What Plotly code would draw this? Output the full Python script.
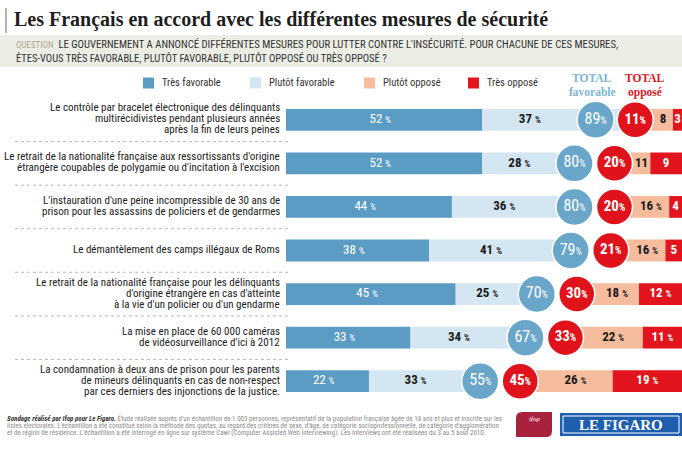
import plotly.graph_objects as go

# ---------------- data ----------------
row_labels = [
    ["Le contrôle par bracelet électronique des délinquants",
     "multirécidivistes pendant plusieurs années",
     "après la fin de leurs peines"],
    ["Le retrait de la nationalité française aux ressortissants d'origine",
     "étrangère coupables de polygamie ou d'incitation à l'excision"],
    ["L'instauration d'une peine incompressible de 30 ans de",
     "prison pour les assassins de policiers et de gendarmes"],
    ["Le démantèlement des camps illégaux de Roms"],
    ["Le retrait de la nationalité française pour les délinquants",
     "d'origine étrangère en cas d'atteinte",
     "à la vie d'un policier ou d'un gendarme"],
    ["La mise en place de 60 000 caméras",
     "de vidéosurveillance d'ici à 2012"],
    ["La condamnation à deux ans de prison pour les parents",
     "de mineurs délinquants en cas de non-respect",
     "par ces derniers des injonctions de la justice."],
]
categories = [" ".join(l) for l in row_labels]
tres_favorable = [52, 52, 44, 38, 45, 33, 22]
plutot_favorable = [37, 28, 36, 41, 25, 34, 33]
plutot_oppose = [8, 11, 16, 16, 18, 22, 26]
tres_oppose = [3, 9, 4, 5, 12, 11, 19]
total_favorable = [89, 80, 80, 79, 70, 67, 55]
total_oppose = [11, 20, 20, 21, 30, 33, 45]
series_names = ["Très favorable", "Plutôt favorable", "Plutôt opposé", "Très opposé"]

title = "Les Français en accord avec les différentes mesures de sécurité"
question_1 = "LE GOUVERNEMENT A ANNONCÉ DIFFÉRENTES MESURES POUR LUTTER CONTRE L'INSÉCURITÉ. POUR CHACUNE DE CES MESURES,"
question_2 = "ÊTES-VOUS TRÈS FAVORABLE, PLUTÔT FAVORABLE, PLUTÔT OPPOSÉ OU TRÈS OPPOSÉ ?"
footer = [
    "<b><i><span style='color:#333'>Sondage réalisé par Ifop pour Le Figaro.</span></i></b> Étude réalisée auprès d'un échantillon de 1 003 personnes, représentatif de la population française âgée de 18 ans et plus et inscrite sur les",
    "listes électorales. L'échantillon a été constitué selon la méthode des quotas, au regard des critères de sexe, d'âge, de catégorie socioprofessionnelle, de catégorie d'agglomération",
    "et de région de résidence. L'échantillon a été interrogé en ligne sur système Cawi (Computer Assisted Web Interviewing). Les interviews ont été réalisées du 3 au 5 août 2010.",
]

# ---------------- layout constants ----------------
W, H = 682, 450
ML, MT, MB = 286, 98, 47
PW, PH = W - ML, H - MT - MB
XMAX = 105.0
R_END = 105.6          # right end of the "opposé" bars (cropped by the frame)
CIRCLE_R = 4.8         # circle radius in % units
N = len(categories)

C_TF = "#5b9cc4"
C_PF = "#d4e6f1"
C_PO = "#f5bc9d"
C_TO = "#e2151e"
C_CIRC_B = "#6aa6c9"
C_CIRC_R = "#e0131c"
NARROW = "Roboto Condensed, Liberation Sans Narrow, DejaVu Sans Condensed, sans-serif"
SERIF = "Liberation Serif, DejaVu Serif, serif"


def px_x(p):
    return (p - ML) / PW


def px_y(q):
    return 1 - (q - MT) / PH


def row_px(i):
    return MT + (i + 0.5) * PH / N


def pct(v, small, bold=False, space=True):
    s = f"{v}{' ' if space else ''}<span style='font-size:{small}px'>%</span>"
    return f"<b>{s}</b>" if bold else s


fig = go.Figure()

opp_start = [R_END - t for t in total_oppose]
red_start = [R_END - t for t in tres_oppose]

fig.add_trace(go.Bar(y=categories, x=tres_favorable, base=[0] * N, orientation="h",
                     marker=dict(color=C_TF, line_width=0), width=0.5, name=series_names[0]))
fig.add_trace(go.Bar(y=categories, x=plutot_favorable, base=tres_favorable, orientation="h",
                     marker=dict(color=C_PF, line_width=0), width=0.5, name=series_names[1]))
fig.add_trace(go.Bar(y=categories, x=plutot_oppose, base=opp_start, orientation="h",
                     marker=dict(color=C_PO, line_width=0), width=0.5, name=series_names[2]))
fig.add_trace(go.Bar(y=categories, x=tres_oppose, base=red_start, orientation="h",
                     marker=dict(color=C_TO, line_width=0), width=0.5, name=series_names[3]))

# circle positions derived from the totals
c_red = [min(R_END - o + 1.5, R_END - 13) for o in total_oppose]
c_fav = [min(f - 3.5, cr - 10.5) for f, cr in zip(total_favorable, c_red)]

# labels inside bars
fig.add_trace(go.Scatter(
    x=[v / 2 - 1 for v in tres_favorable], y=categories, mode="text",
    text=[pct(v, 9) for v in tres_favorable],
    textfont=dict(family=NARROW, size=13, color="white"), hoverinfo="skip"))
fig.add_trace(go.Scatter(
    x=[(a + cf - CIRCLE_R) / 2 for a, cf in zip(tres_favorable, c_fav)], y=categories, mode="text",
    text=[pct(v, 9, bold=True) for v in plutot_favorable],
    textfont=dict(family=NARROW, size=13, color="#1a1a1a"), hoverinfo="skip"))

po_x, po_t, to_x, to_t = [], [], [], []
for i in range(N):
    vis0 = max(opp_start[i], c_red[i] + CIRCLE_R)
    vis1 = red_start[i]
    po_x.append((vis0 + vis1) / 2)
    po_t.append(pct(plutot_oppose[i], 9, True) if vis1 - vis0 >= 9 else f"<b>{plutot_oppose[i]}</b>")
    r0, r1 = red_start[i], min(R_END, XMAX)
    to_x.append((r0 + r1) / 2)
    to_t.append(pct(tres_oppose[i], 9, True) if r1 - r0 >= 9 else f"<b>{tres_oppose[i]}</b>")
fig.add_trace(go.Scatter(x=po_x, y=categories, mode="text", text=po_t,
                         textfont=dict(family=NARROW, size=13, color="#1a1a1a"), hoverinfo="skip"))
fig.add_trace(go.Scatter(x=to_x, y=categories, mode="text", text=to_t,
                         textfont=dict(family=NARROW, size=13, color="white"), hoverinfo="skip"))

# total circles
fig.add_trace(go.Scatter(
    x=c_fav, y=categories, mode="markers+text",
    marker=dict(size=37, color=C_CIRC_B, line=dict(color="white", width=1.5)),
    text=[pct(v, 10, space=False) for v in total_favorable], textposition="middle center",
    textfont=dict(family=NARROW, size=16, color="white"), hoverinfo="skip"))
fig.add_trace(go.Scatter(
    x=c_red, y=categories, mode="markers+text",
    marker=dict(size=36, color=C_CIRC_R, line=dict(color="white", width=1.5)),
    text=[pct(v, 10, True, space=False) for v in total_oppose], textposition="middle center",
    textfont=dict(family=NARROW, size=15, color="white"), hoverinfo="skip"))

ann = []
shapes = []

# row labels + separators
for i, lines in enumerate(row_labels):
    n = len(lines)
    for j, line in enumerate(lines):
        yy = row_px(i) + (j - (n - 1) / 2) * 11 - 1
        ann.append(dict(xref="paper", yref="paper", x=px_x(282), y=px_y(yy), text=line,
                        showarrow=False, xanchor="right", yanchor="middle",
                        font=dict(family=NARROW, size=11, color="#222")))
    if i < N - 1:
        shapes.append(dict(type="line", xref="paper", yref="y", x0=px_x(15), x1=px_x(289),
                           y0=i + 0.5, y1=i + 0.5, line=dict(color="#b8b8b8", width=1, dash="dot")))

# title and question band
shapes.append(dict(type="line", xref="paper", yref="paper", x0=px_x(6), x1=px_x(6),
                   y0=px_y(8), y1=px_y(33), line=dict(color="#9a9a9a", width=1.5)))
ann.append(dict(xref="paper", yref="paper", x=px_x(12), y=px_y(19), text=f"<b>{title}</b>",
                showarrow=False, xanchor="left", yanchor="middle",
                font=dict(family=SERIF, size=20, color="#1e1e1e")))
shapes.append(dict(type="rect", xref="paper", yref="paper", x0=px_x(0), x1=px_x(W),
                   y0=px_y(35), y1=px_y(67), fillcolor="#eceee6", line_width=0, layer="below"))
ann.append(dict(xref="paper", yref="paper", x=px_x(14), y=px_y(45),
                text="<span style='color:#b0a88f;font-size:9px'>QUESTION</span>  " + question_1,
                showarrow=False, xanchor="left", yanchor="middle",
                font=dict(family=NARROW, size=10.7, color="#333")))
ann.append(dict(xref="paper", yref="paper", x=px_x(14), y=px_y(58), text=question_2,
                showarrow=False, xanchor="left", yanchor="middle",
                font=dict(family=NARROW, size=10.5, color="#333")))

# legend
leg_x = [143, 250, 364, 468]
leg_c = [C_TF, C_PF, C_PO, C_TO]
for name, x0, c in zip(series_names, leg_x, leg_c):
    shapes.append(dict(type="rect", xref="paper", yref="paper", x0=px_x(x0), x1=px_x(x0 + 11),
                       y0=px_y(77.5), y1=px_y(88.5), fillcolor=c, line_width=0))
    ann.append(dict(xref="paper", yref="paper", x=px_x(x0 + 17), y=px_y(83), text=name,
                    showarrow=False, xanchor="left", yanchor="middle",
                    font=dict(family=NARROW, size=10.5, color="#333")))

# TOTAL headers
for txt, x, y, col in [("TOTAL", 592, 78, "#7db4d4"), ("favorable", 592, 92, "#7db4d4"),
                       ("TOTAL", 645, 78, "#e2151e"), ("opposé", 645, 92, "#e2151e")]:
    ann.append(dict(xref="paper", yref="paper", x=px_x(x), y=px_y(y), text=f"<b>{txt}</b>",
                    showarrow=False, xanchor="center", yanchor="middle",
                    font=dict(family=SERIF, size=11.5, color=col)))

# footer
for k, line in enumerate(footer):
    ann.append(dict(xref="paper", yref="paper", x=px_x(5), y=px_y(418 + 7.5 * k), text=line,
                    showarrow=False, xanchor="left", yanchor="middle",
                    font=dict(family=NARROW, size=7, color="#8c8c8c")))

# logos
shapes.append(dict(type="path", xref="paper", yref="paper",
                   path=(f"M {px_x(516)},{px_y(437)} L {px_x(516)},{px_y(418)} "
                         f"Q {px_x(516)},{px_y(412)} {px_x(522)},{px_y(412)} "
                         f"L {px_x(552)},{px_y(412)} L {px_x(552)},{px_y(431)} "
                         f"Q {px_x(552)},{px_y(437)} {px_x(546)},{px_y(437)} Z"),
                   fillcolor="#a8223e", line_width=0))
ann.append(dict(xref="paper", yref="paper", x=px_x(534), y=px_y(425), text="<i>ifop</i>",
                showarrow=False, font=dict(family=SERIF, size=7, color="white")))
shapes.append(dict(type="rect", xref="paper", yref="paper", x0=px_x(560), x1=px_x(682),
                   y0=px_y(436), y1=px_y(413), fillcolor="#1e5eae", line_width=0))
shapes.append(dict(type="rect", xref="paper", yref="paper", x0=px_x(563), x1=px_x(679),
                   y0=px_y(433), y1=px_y(416), fillcolor="rgba(0,0,0,0)",
                   line=dict(color="white", width=1)))
ann.append(dict(xref="paper", yref="paper", x=px_x(621), y=px_y(425), text="<b>LE FIGARO</b>",
                showarrow=False, xanchor="center", yanchor="middle",
                font=dict(family=SERIF, size=15, color="white")))

fig.update_layout(
    width=W, height=H, margin=dict(l=ML, r=0, t=MT, b=MB),
    paper_bgcolor="white", plot_bgcolor="white", showlegend=False,
    barmode="overlay", annotations=ann, shapes=shapes,
    xaxis=dict(range=[0, XMAX], visible=False, fixedrange=True),
    yaxis=dict(type="category", categoryorder="array", categoryarray=categories,
               range=[N - 0.5, -0.5], visible=False, fixedrange=True),
)
fig.write_html("out.html")
